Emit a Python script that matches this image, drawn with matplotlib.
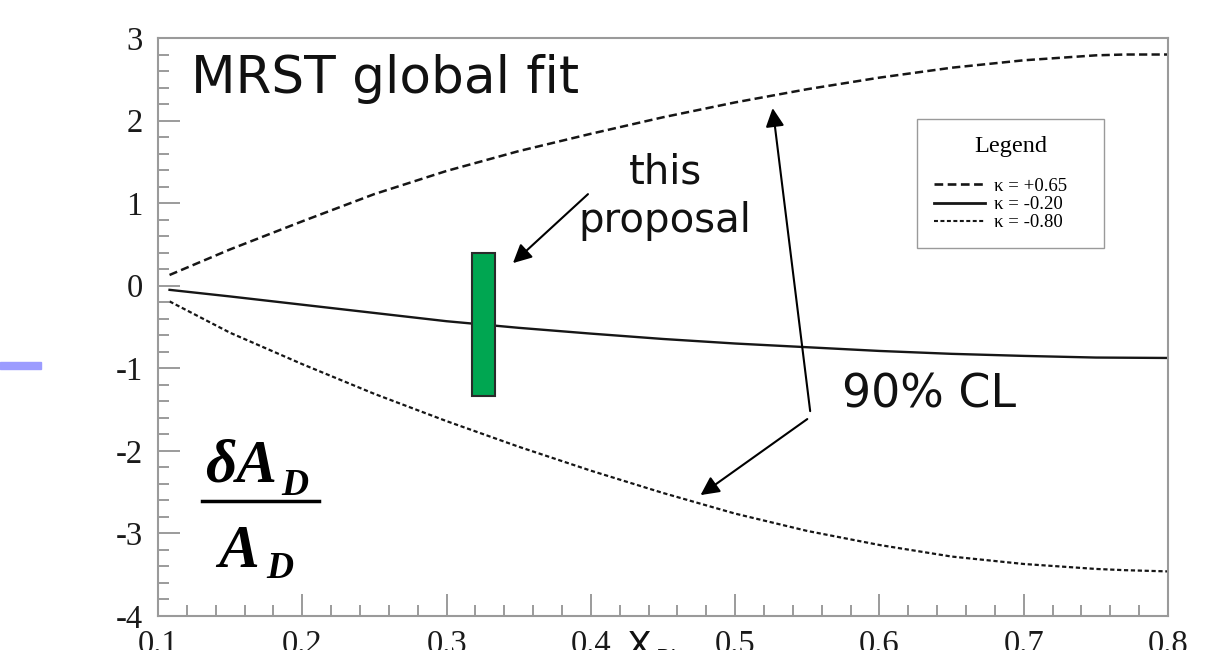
import matplotlib
matplotlib.use("Agg")
import matplotlib.pyplot as plt
from matplotlib.lines import Line2D
from matplotlib.patches import Rectangle
from matplotlib.ticker import MultipleLocator

# ---------------- data ----------------
x_vals = [0.108, 0.15, 0.20, 0.25, 0.30, 0.35, 0.40, 0.45, 0.50, 0.55, 0.60, 0.65, 0.70, 0.75, 0.77, 0.80]
k_plus065 = [0.13, 0.44, 0.78, 1.11, 1.39, 1.63, 1.84, 2.04, 2.22, 2.38, 2.52, 2.64, 2.73, 2.79, 2.80, 2.80]
k_minus020 = [-0.05, -0.13, -0.23, -0.33, -0.43, -0.51, -0.58, -0.645, -0.70, -0.745, -0.79, -0.825, -0.85, -0.87, -0.872, -0.875]
k_minus080 = [-0.19, -0.57, -0.95, -1.31, -1.64, -1.95, -2.24, -2.51, -2.76, -2.97, -3.14, -3.28, -3.37, -3.43, -3.445, -3.46]
legend_labels = ["κ = +0.65", "κ = -0.20", "κ = -0.80"]

proposal_x = [0.3256]
proposal_lo = [-1.33]
proposal_hi = [0.40]

x_ticks = [0.1, 0.2, 0.3, 0.4, 0.5, 0.6, 0.7, 0.8]
x_tick_labels = ["0.1", "0.2", "0.3", "0.4", "0.5", "0.6", "0.7", "0.8"]
y_ticks = [-4, -3, -2, -1, 0, 1, 2, 3]
y_tick_labels = ["-4", "-3", "-2", "-1", "0", "1", "2", "3"]

# ---------------- figure ----------------
W, H = 1207, 650
fig = plt.figure(figsize=(W / 100, H / 100), dpi=100)
ax = fig.add_axes([158 / W, 34 / H, 1010 / W, 578 / H])

def fx(px):
    return px / W

def fy(py):
    return 1 - py / H

serif = "Liberation Serif"
line_col = "#161616"
dash_a = (3.3, 1.7)
dash_c = (1.9, 1.2)

ax.plot(x_vals, k_plus065, color=line_col, lw=1.8, dashes=dash_a)
ax.plot(x_vals, k_minus020, color=line_col, lw=1.7, ls="-")
ax.plot(x_vals, k_minus080, color=line_col, lw=1.6, dashes=dash_c)

ax.bar(proposal_x, [proposal_hi[0] - proposal_lo[0]], bottom=proposal_lo, width=0.0157,
       color="#00a651", edgecolor="#2a2a2a", lw=1.5, zorder=3)

ax.set_xlim(0.1, 0.8)
ax.set_ylim(-4, 3)
ax.set_xticks(x_ticks)
ax.set_xticklabels(x_tick_labels, fontfamily=serif, fontsize=23.5, color="#1a1a1a")
ax.set_yticks(y_ticks)
ax.set_yticklabels(y_tick_labels, fontfamily=serif, fontsize=23.5, color="#1a1a1a")
ax.xaxis.set_minor_locator(MultipleLocator(0.02))
ax.yaxis.set_minor_locator(MultipleLocator(0.2))
ax.tick_params(which="both", direction="in", color="#8a8a8a", width=1.2, top=False, right=False)
ax.tick_params(which="major", length=16)
ax.tick_params(which="minor", length=8)
ax.tick_params(axis="x", which="major", pad=10)
ax.tick_params(axis="y", which="major", pad=11)
for s in ax.spines.values():
    s.set_color("#9a9a9a")
    s.set_linewidth(1.5)

# legend
handles = [Line2D([], [], color=line_col, lw=1.9, dashes=dash_a),
           Line2D([], [], color=line_col, lw=2.0),
           Line2D([], [], color=line_col, lw=1.5, dashes=dash_c)]
leg = ax.legend(handles, legend_labels, title="Legend", loc="upper left", mode="expand",
                bbox_to_anchor=(fx(917), fy(249), 187 / W, 130 / H), bbox_transform=fig.transFigure,
                prop={"family": serif, "size": 13.5},
                title_fontproperties={"family": serif, "size": 17.5},
                fancybox=False, framealpha=1, edgecolor="#9a9a9a",
                handlelength=2.7, handletextpad=0.5, labelspacing=0.06,
                borderpad=0.9, borderaxespad=0)
leg.get_frame().set_linewidth(1.0)
leg._legend_box.sep = 15

# annotations
ax.text(0.1227, 2.33, "MRST global fit", fontsize=37.2, va="baseline", ha="left", color="#111111")
ax.text(0.4514, 1.243, "this", fontsize=29, va="baseline", ha="center", color="#111111")
ax.text(0.4514, 0.649, "proposal", fontsize=29, va="baseline", ha="center", color="#111111")
ax.text(0.574, -1.470, "90% CL", fontsize=33, va="baseline", ha="left", color="#111111")

arrow_kw = dict(arrowstyle="-|>", lw=1.5, color="black", mutation_scale=28, shrinkA=0, shrinkB=0)
ax.annotate("", xy=(0.346, 0.274), xytext=(0.398, 1.109), arrowprops=arrow_kw)
ax.annotate("", xy=(0.526, 2.151), xytext=(0.552, -1.519), arrowprops=arrow_kw)
ax.annotate("", xy=(0.476, -2.536), xytext=(0.550, -1.615), arrowprops=arrow_kw)

# fraction dA_D / A_D
bi = dict(family=serif, weight="bold", style="italic", color="black")
fig.text(fx(205), fy(482), "δA", fontsize=44, va="baseline", ha="left", **bi)
fig.text(fx(281), fy(495), "D", fontsize=27, va="baseline", ha="left", **bi)
fig.text(fx(218), fy(567), "A", fontsize=44, va="baseline", ha="left", **bi)
fig.text(fx(266), fy(578), "D", fontsize=27, va="baseline", ha="left", **bi)
fig.add_artist(Line2D([fx(202), fx(319)], [fy(501), fy(501)], color="black", lw=2.5,
                      transform=fig.transFigure))

# x-axis label (cut by the image border)
fig.text(fx(627), fy(657), "X", fontsize=26, va="baseline", ha="left", color="#111111")
fig.text(fx(656), fy(665), "Bj", fontsize=16, va="baseline", ha="left", color="#111111")

# slide decoration bar
fig.patches.append(Rectangle((0, fy(369)), fx(41), 7 / H, transform=fig.transFigure,
                             color="#9c9cff", zorder=5))

fig.savefig("out.png", dpi=100)
